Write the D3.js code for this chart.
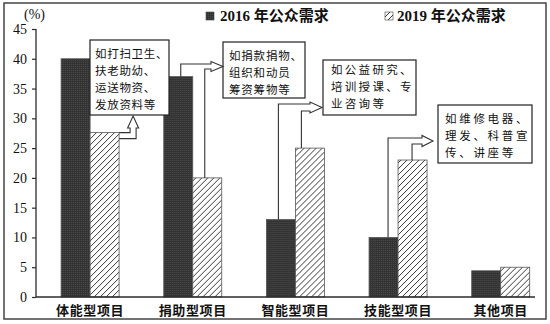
<!DOCTYPE html>
<html>
<head>
<meta charset="utf-8">
<script src="https://cdn.jsdelivr.net/npm/d3@7"></script>
<style>
  html, body { margin: 0; padding: 0; background: #fff; }
  svg { display: block; }
</style>
</head>
<body>
<div id="chart"></div>
<script>
// ---- data ----
const categories = ["体能型项目", "捐助型项目", "智能型项目", "技能型项目", "其他项目"];
const seriesNames = ["2016 年公众需求", "2019 年公众需求"];
const values2016 = [40, 37, 13, 10, 4.4];
const values2019 = [27.6, 20, 25, 23, 5];
const yTicks = [0, 5, 10, 15, 20, 25, 30, 35, 40, 45];
const yUnit = "(%)";
const notes = [
  ["如打扫卫生、", "扶老助幼、", "运送物资、", "发放资料等"],
  ["如捐款捐物、", "组织和动员", "筹资筹物等"],
  ["如公益研究、", "培训授课、专", "业咨询等"],
  ["如维修电器、", "理发、科普宣", "传、讲座等"]
];

// ---- layout ----
const W = 550, H = 324;
const serif = "'Liberation Serif', 'Times New Roman', 'Noto Sans CJK SC', serif";
const cjk = "'Noto Sans CJK SC', sans-serif";
const ink = "#2b2b2b";

const svg = d3.select("#chart").append("svg")
  .attr("width", W).attr("height", H)
  .attr("viewBox", `0 0 ${W} ${H}`);

const defs = svg.append("defs");
// stippled dark fill
const dots = defs.append("pattern").attr("id", "dark")
  .attr("patternUnits", "userSpaceOnUse").attr("width", 2).attr("height", 2);
dots.append("rect").attr("width", 2).attr("height", 2).attr("fill", "#333");
dots.append("rect").attr("width", 1).attr("height", 1).attr("fill", "#4a4a4a");
// diagonal hatch fill
const hatch = defs.append("pattern").attr("id", "hatch")
  .attr("patternUnits", "userSpaceOnUse").attr("width", 6).attr("height", 6);
hatch.append("rect").attr("width", 6).attr("height", 6).attr("fill", "#fff");
hatch.append("path").attr("d", "M-1,1 l2,-2 M0,6 l6,-6 M5,7 l2,-2")
  .attr("stroke", "#222").attr("stroke-width", 0.9);

svg.append("rect").attr("width", W).attr("height", H).attr("fill", "#fff");
// frame
svg.append("rect").attr("x", 4).attr("y", 3).attr("width", 542).attr("height", 316)
  .attr("fill", "none").attr("stroke", "#444").attr("stroke-width", 1.5);

// scales
const y = d3.scaleLinear().domain([0, 45]).range([297, 29]);
const x0 = d3.scaleBand().domain(categories).range([61.1, 529.7])
  .paddingInner(0.435).paddingOuter(0);
const x1 = d3.scaleBand().domain(seriesNames).range([0, x0.bandwidth()]).padding(0);

// bars
const rows = categories.map((c, i) => ({ cat: c, v: [values2016[i], values2019[i]] }));
const groups = svg.append("g").selectAll("g").data(rows).join("g")
  .attr("transform", d => `translate(${x0(d.cat)},0)`);
groups.selectAll("rect").data(d => seriesNames.map((s, k) => ({ s, v: d.v[k] })))
  .join("rect")
  .attr("x", d => x1(d.s))
  .attr("y", d => y(d.v))
  .attr("width", x1.bandwidth())
  .attr("height", d => y(0) - y(d.v))
  .attr("fill", (d, k) => k === 0 ? "url(#dark)" : "url(#hatch)")
  .attr("stroke", "#555").attr("stroke-width", 0.8);

// y axis
const yAxis = d3.axisLeft(y).tickValues(yTicks).tickSize(4).tickPadding(5);
const gy = svg.append("g").attr("transform", "translate(36,0)").call(yAxis);
gy.select(".domain").attr("stroke", ink).attr("stroke-width", 1.3).attr("d", "M0,29V297");
gy.selectAll(".tick line").attr("stroke", ink).attr("stroke-width", 1.2);
gy.selectAll(".tick text").attr("font-family", serif).attr("font-size", 14)
  .attr("fill", "#111");

// x axis
const xAxis = d3.axisBottom(x0).tickSize(0).tickPadding(9);
const gx = svg.append("g").attr("transform", `translate(0,${y(0)})`).call(xAxis);
gx.select(".domain").attr("stroke", ink).attr("stroke-width", 1.5).attr("d", "M36,0H535");
gx.selectAll(".tick text").attr("font-family", cjk).attr("font-size", 13)
  .attr("font-weight", 700).attr("letter-spacing", 0.6).attr("fill", "#111");

// unit label
svg.append("text").attr("x", 24).attr("y", 19).text(yUnit)
  .attr("font-family", serif).attr("font-size", 14).attr("fill", "#111");

// legend
const legend = [
  { name: seriesNames[0], fill: "url(#dark)", sx: 206, tx: 220 },
  { name: seriesNames[1], fill: "url(#hatch)", sx: 385, tx: 397 }
];
const lg = svg.append("g").selectAll("g").data(legend).join("g");
lg.append("rect").attr("x", d => d.sx).attr("y", 12).attr("width", 8).attr("height", 8)
  .attr("fill", d => d.fill).attr("stroke", "#444").attr("stroke-width", 0.6);
lg.append("text").attr("x", d => d.tx).attr("y", 21).text(d => d.name)
  .attr("font-family", serif).attr("font-size", 15).attr("font-weight", 700)
  .attr("fill", "#111");

// callout boxes
const boxes = [
  { x: 90, y: 40, w: 79, h: 75, tx: 5, ty: 17.5, lh: 17, fs: 11.5, ls: 0.7 },
  { x: 223, y: 42, w: 82, h: 56, tx: 6, ty: 18, lh: 17, fs: 11.5, ls: 0.8 },
  { x: 323, y: 60, w: 93, h: 55, tx: 8, ty: 13.5, lh: 17, fs: 11.5, ls: 2.3 },
  { x: 438, y: 105, w: 94, h: 58, tx: 7, ty: 17.5, lh: 17, fs: 11.5, ls: 2.7 }
];
const bg = svg.append("g").selectAll("g").data(boxes).join("g");
bg.append("rect").attr("x", d => d.x).attr("y", d => d.y)
  .attr("width", d => d.w).attr("height", d => d.h)
  .attr("fill", "#fff").attr("stroke", "#222").attr("stroke-width", 1.2);
bg.each(function (d, i) {
  d3.select(this).selectAll("text").data(notes[i]).join("text")
    .attr("x", d.x + d.tx)
    .attr("y", (t, j) => d.y + d.ty + j * d.lh)
    .attr("font-family", cjk).attr("font-size", d.fs)
    .attr("letter-spacing", d.ls).attr("fill", "#111")
    .text(t => t);
});

// hollow bent arrows linking bars to their notes
const bw = x1.bandwidth();
const darkLeft = i => x0(categories[i]) + x1(seriesNames[0]);
const hatchLeft = i => x0(categories[i]) + x1(seriesNames[1]);

function upArrow(i, box) {
  const bx = hatchLeft(i) + bw, top = y(values2019[i]);
  const ax = bx + 14, tip = box.y + box.h + 1, base = tip + 12;
  return `M${bx},${top}H${ax - 3}V${base}H${ax - 5.5}L${ax},${tip}L${ax + 5.5},${base}H${ax + 3}V${top + 6}H${bx}`;
}
function rightArrow(i, o) {
  const dx = darkLeft(i) + o.dOff, hx = hatchLeft(i) + o.hOff;
  const baseX = o.tip - o.len, cy = o.cy;
  return `M${dx},${y(values2016[i])}V${cy - o.sh}H${baseX}V${cy - o.hh}L${o.tip},${cy}` +
    `L${baseX},${cy + o.hh}V${cy + o.sh}H${hx}V${y(values2019[i])}`;
}
const arrowPaths = [
  upArrow(0, boxes[0]),
  rightArrow(1, { dOff: 17, hOff: 12, cy: 66.5, sh: 2.5, hh: 5, tip: boxes[1].x, len: 12 }),
  rightArrow(2, { dOff: 12, hOff: 6, cy: 107.5, sh: 3.5, hh: 5.5, tip: boxes[2].x - 1, len: 12 }),
  rightArrow(3, { dOff: 19, hOff: 14, cy: 141, sh: 3, hh: 5.5, tip: boxes[3].x - 5, len: 11 })
];
svg.append("g").selectAll("path").data(arrowPaths).join("path")
  .attr("d", d => d).attr("fill", "none")
  .attr("stroke", "#333").attr("stroke-width", 1.1);
</script>
</body>
</html>
